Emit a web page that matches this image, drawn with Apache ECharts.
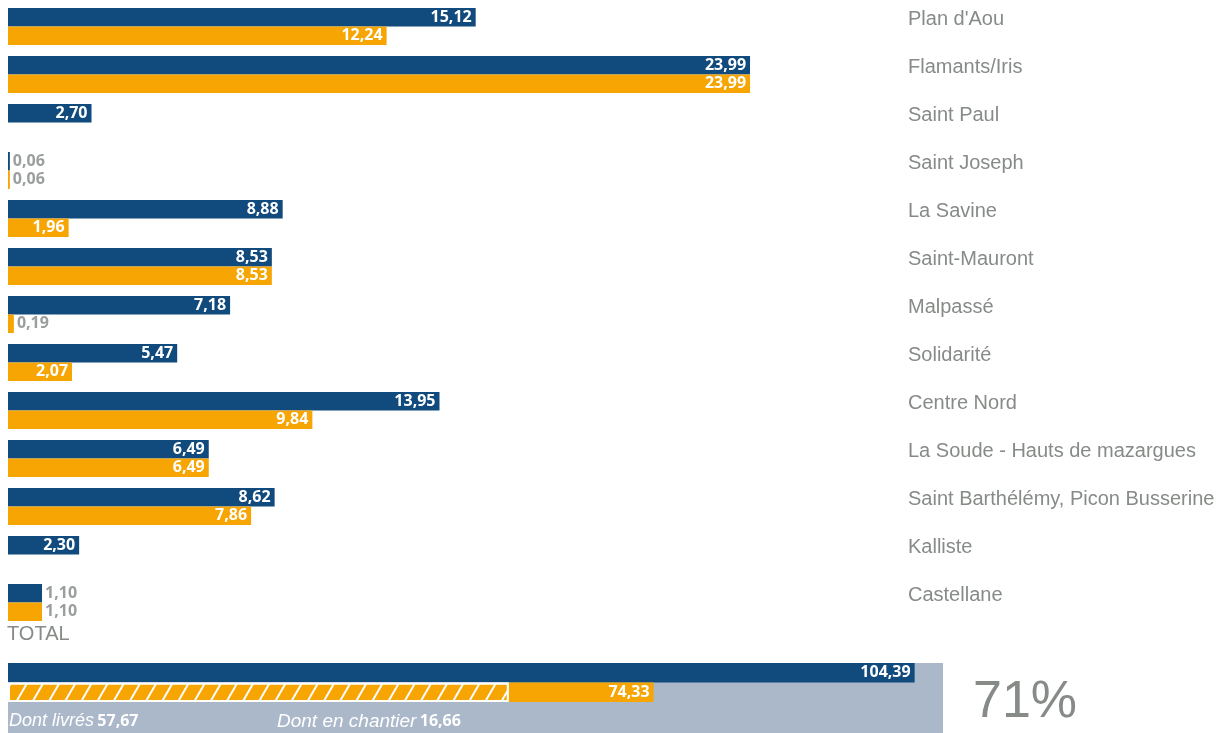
<!DOCTYPE html>
<html lang="fr">
<head>
<meta charset="utf-8">
<title>Logements</title>
<script src="https://cdn.jsdelivr.net/npm/echarts@6/dist/echarts.min.js"></script>
<style>
  html, body { margin: 0; padding: 0; background: #fff; }
  #chart { width: 1229px; height: 733px; }
</style>
</head>
<body>
<div id="chart"></div>
<script>
// quartiers (ordre du haut vers le bas)
var quartiers = ["Plan d'Aou", 'Flamants/Iris', 'Saint Paul', 'Saint Joseph', 'La Savine',
  'Saint-Mauront', 'Malpassé', 'Solidarité', 'Centre Nord', 'La Soude - Hauts de mazargues',
  'Saint Barthélémy, Picon Busserine', 'Kalliste', 'Castellane'];
var programme = [15.12, 23.99, 2.70, 0.06, 8.88, 8.53, 7.18, 5.47, 13.95, 6.49, 8.62, 2.30, 1.10];
var engage = [12.24, 23.99, null, 0.06, 1.96, 8.53, 0.19, 2.07, 9.84, 6.49, 7.86, null, 1.10];

// total
var totalProgramme = 104.39;
var totalLivres = 57.67;
var totalChantier = 16.66;
var totalEngage = 74.33;

var BLUE = '#114a7c', ORANGE = '#f6a503', GREY_TXT = '#868b87', GREY_LBL = '#9a9e9e', BOX = '#abb8ca';
var SANS = "'Liberation Sans', Arial, sans-serif";
var NUMFONT = "'Open Sans', 'Noto Sans', sans-serif";

function fmt(v) { return v.toFixed(2).replace('.', ','); }

function items(arr) {
  return arr.map(function (v) {
    if (v == null) return null;
    var small = v < 1.5;
    return {
      value: v,
      label: small
        ? { position: 'right', distance: 3, color: GREY_LBL }
        : { position: 'insideRight', distance: 4, color: '#fff' }
    };
  });
}

var lblBase = {
  show: true,
  fontFamily: NUMFONT,
  fontWeight: 'bold',
  fontSize: 16,
  formatter: function (p) { return fmt(p.value); }
};

var myChart = echarts.init(document.getElementById('chart'));
myChart.setOption({
  animation: false,
  grid: [
    { left: 8, top: 2.5, width: 897, height: 624, outerBoundsMode: 'none', containLabel: false },
    { left: 8, top: 663, width: 938, height: 39, outerBoundsMode: 'none', containLabel: false }
  ],
  xAxis: [
    { gridIndex: 0, type: 'value', min: 0, max: 29, show: false },
    { gridIndex: 1, type: 'value', min: 0, max: 108, show: false }
  ],
  yAxis: [
    {
      gridIndex: 0, type: 'category', data: quartiers, inverse: true, position: 'right',
      axisLine: { show: false }, axisTick: { show: false },
      axisLabel: {
        margin: 3, align: 'left', verticalAlign: 'bottom', lineHeight: 15,
        color: GREY_TXT, fontFamily: SANS, fontSize: 20
      }
    },
    { gridIndex: 1, type: 'category', data: ['TOTAL'], show: false }
  ],
  graphic: [
    { type: 'rect', z: -10, shape: { x: 8, y: 663, width: 935, height: 70 }, style: { fill: BOX } },
    { type: 'text', left: 7, top: 624, style: { text: 'TOTAL', fill: GREY_TXT, font: '20px ' + SANS } },
    {
      type: 'text', left: 973, top: 677,
      style: {
        text: Math.round(totalEngage / totalProgramme * 100) + '%',
        fill: GREY_TXT, font: '52px ' + SANS
      }
    },
    {
      type: 'text', left: 9, top: 712,
      style: {
        text: '{a|Dont livrés} {b|' + fmt(totalLivres) + '}',
        rich: {
          a: { fill: '#fff', fontStyle: 'italic', fontSize: 18, fontFamily: SANS },
          b: { fill: '#fff', fontWeight: 'bold', fontSize: 16, fontFamily: NUMFONT }
        }
      }
    },
    {
      type: 'text', left: 277, top: 712,
      style: {
        text: '{a|Dont en chantier} {b|' + fmt(totalChantier) + '}',
        rich: {
          a: { fill: '#fff', fontStyle: 'italic', fontSize: 19, fontFamily: SANS },
          b: { fill: '#fff', fontWeight: 'bold', fontSize: 16, fontFamily: NUMFONT }
        }
      }
    }
  ],
  series: [
    {
      name: 'Programmé', type: 'bar', xAxisIndex: 0, yAxisIndex: 0,
      barGap: 0, barCategoryGap: '23%',
      itemStyle: { color: BLUE },
      label: lblBase,
      data: items(programme)
    },
    {
      name: 'Engagé', type: 'bar', xAxisIndex: 0, yAxisIndex: 0,
      barGap: 0, barCategoryGap: '23%',
      itemStyle: { color: ORANGE },
      label: lblBase,
      data: items(engage)
    },
    {
      name: 'Total programmé', type: 'bar', xAxisIndex: 1, yAxisIndex: 1,
      barGap: 0, barCategoryGap: 0,
      itemStyle: { color: BLUE },
      label: { show: true, position: 'insideRight', distance: 4, color: '#fff',
        fontFamily: NUMFONT, fontWeight: 'bold', fontSize: 16,
        formatter: function (p) { return fmt(p.value); } },
      data: [totalProgramme]
    },
    {
      name: 'Livrés', type: 'bar', xAxisIndex: 1, yAxisIndex: 1, stack: 'engage',
      barGap: 0, barCategoryGap: 0,
      itemStyle: {
        color: ORANGE, borderColor: '#fff', borderWidth: 2,
        decal: {
          symbol: 'rect', symbolSize: 1, color: '#fff',
          dashArrayX: [1, 0], dashArrayY: [2, 12], rotation: -Math.PI / 3
        }
      },
      data: [totalLivres]
    },
    {
      name: 'En chantier', type: 'bar', xAxisIndex: 1, yAxisIndex: 1, stack: 'engage',
      barGap: 0, barCategoryGap: 0,
      itemStyle: { color: ORANGE },
      label: { show: true, position: 'insideRight', distance: 4, color: '#fff',
        fontFamily: NUMFONT, fontWeight: 'bold', fontSize: 16,
        formatter: function () { return fmt(totalEngage); } },
      data: [totalChantier]
    }
  ]
});
</script>
</body>
</html>
